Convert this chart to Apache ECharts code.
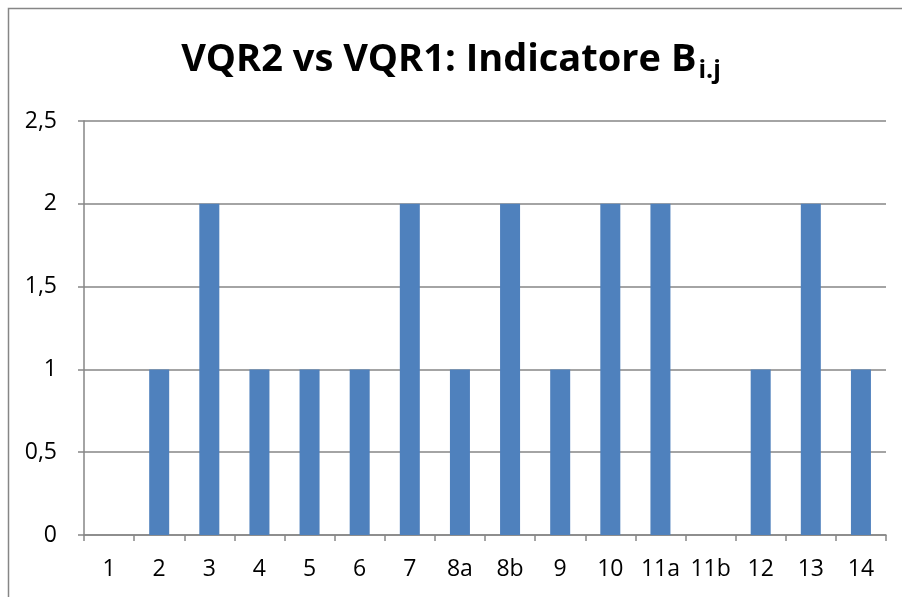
<!DOCTYPE html>
<html>
<head>
<meta charset="utf-8">
<script src="https://cdn.jsdelivr.net/npm/echarts@6/dist/echarts.min.js"></script>
<style>
  html, body { margin: 0; padding: 0; background: #fff; }
  #chart { width: 902px; height: 597px; }
</style>
</head>
<body>
<div id="chart"></div>
<script>
// categorie (settori) e valori dell'indicatore
var categories = ['1', '2', '3', '4', '5', '6', '7', '8a', '8b', '9', '10', '11a', '11b', '12', '13', '14']
var values = [0, 1, 2, 1, 1, 1, 2, 1, 2, 1, 2, 2, 0, 1, 2, 1]
var yTicks = [0, 0.5, 1, 1.5, 2, 2.5]

var myChart = echarts.init(document.getElementById('chart'))
var fontFam = 'Open Sans, Noto Sans, sans-serif'

var option = {
  animation: false,
  backgroundColor: '#fff',
  title: {
    text: '{t|VQR2 vs VQR1: Indicatore B}{s|i.j}',
    left: 'center',
    top: 32,
    textStyle: {
      rich: {
        t: { fontSize: 38, fontWeight: 'bold', color: '#000', fontFamily: fontFam, lineHeight: 46 },
        s: { fontSize: 25, fontWeight: 'bold', color: '#000', fontFamily: fontFam, padding: [22, 0, 0, 2], lineHeight: 46 }
      }
    }
  },
  graphic: [
    {
      type: 'rect',
      shape: { x: 8.5, y: 8.5, width: 1000, height: 1000 },
      style: { fill: 'none', stroke: '#868686', lineWidth: 1.5 },
      silent: true
    }
  ],
  grid: {
    left: 84,
    right: 16,
    top: 121,
    bottom: 62
  },
  xAxis: {
    type: 'category',
    data: categories,
    axisLine: { lineStyle: { color: '#868686', width: 1.5 } },
    axisTick: { show: true, interval: 0, length: 6, alignWithLabel: false, lineStyle: { color: '#868686', width: 1.5 } },
    axisLabel: { interval: 0, hideOverlap: false, color: '#000', fontSize: 23, fontFamily: fontFam, margin: 23 }
  },
  yAxis: {
    type: 'value',
    min: 0,
    max: yTicks[yTicks.length - 1],
    interval: 0.5,
    axisLine: { show: true, lineStyle: { color: '#868686', width: 1.5 } },
    axisTick: { show: true, length: 6, lineStyle: { color: '#868686', width: 1.5 } },
    splitLine: { show: true, lineStyle: { color: '#868686', width: 1.5 } },
    axisLabel: {
      color: '#000',
      fontSize: 23,
      fontFamily: fontFam,
      margin: 27,
      formatter: function (v) {
        return String(v).replace('.', ',')
      }
    }
  },
  series: [
    {
      type: 'bar',
      data: values,
      barWidth: 20,
      itemStyle: {
        color: '#4F81BD'
      }
    }
  ]
}

myChart.setOption(option)
</script>
</body>
</html>
